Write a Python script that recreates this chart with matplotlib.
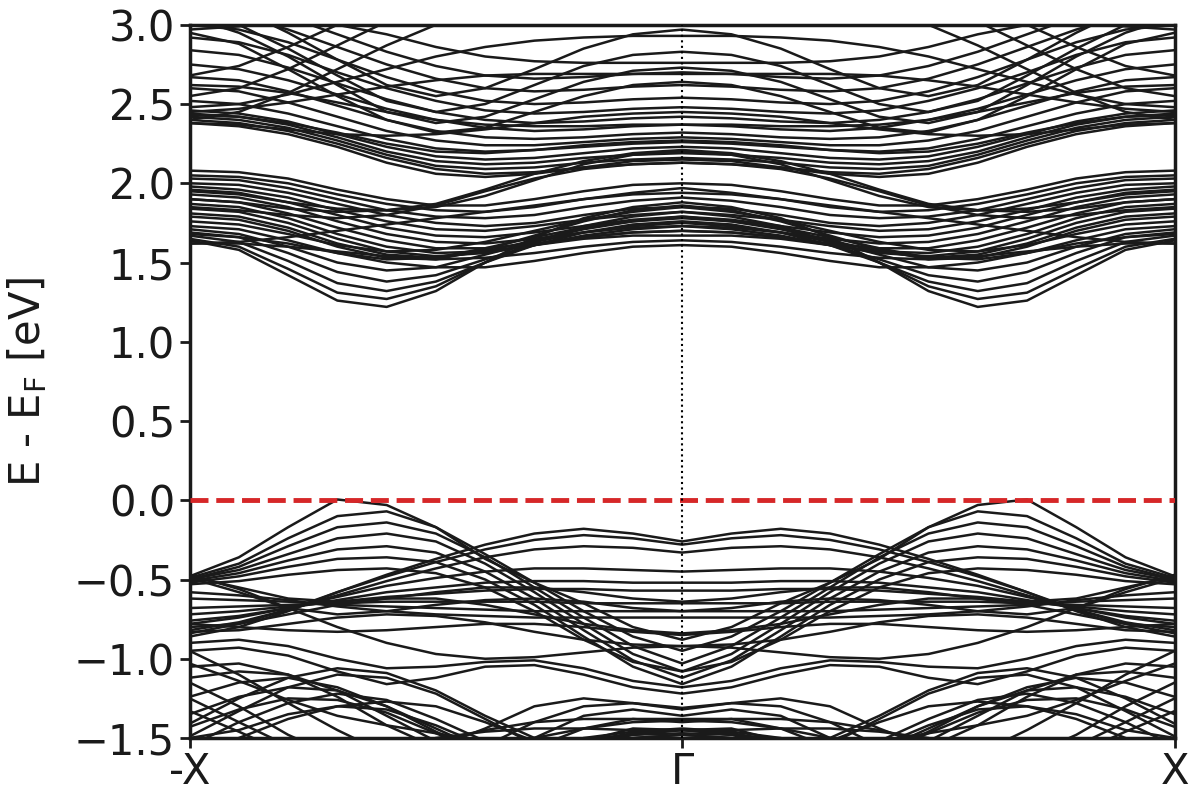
import numpy as np
import matplotlib
matplotlib.use("Agg")
import matplotlib.pyplot as plt

# k-points along the half path -X -> Gamma (fraction of the way); mirrored Gamma -> X
k_half = [0.0, 0.1, 0.2, 0.3, 0.4, 0.5, 0.6, 0.7, 0.8, 0.9, 1.0]

# Lower conduction manifold (eV), values at k_half
conduction_low = [
    [1.64, 1.58, 1.42, 1.26, 1.22, 1.32, 1.50, 1.66, 1.78, 1.85, 1.88],
    [1.65, 1.60, 1.46, 1.31, 1.27, 1.35, 1.50, 1.63, 1.73, 1.79, 1.82],
    [1.67, 1.63, 1.51, 1.37, 1.32, 1.38, 1.50, 1.61, 1.69, 1.74, 1.76],
    [1.69, 1.66, 1.56, 1.44, 1.38, 1.42, 1.52, 1.61, 1.67, 1.71, 1.73],
    [1.71, 1.68, 1.60, 1.50, 1.45, 1.47, 1.55, 1.63, 1.69, 1.73, 1.75],
    [1.73, 1.71, 1.64, 1.56, 1.52, 1.53, 1.59, 1.66, 1.72, 1.76, 1.79],
    [1.76, 1.74, 1.68, 1.61, 1.57, 1.58, 1.63, 1.70, 1.77, 1.82, 1.85],
    [1.68, 1.66, 1.62, 1.56, 1.50, 1.47, 1.47, 1.51, 1.56, 1.60, 1.61],
    [1.62, 1.62, 1.60, 1.57, 1.54, 1.52, 1.53, 1.56, 1.60, 1.63, 1.64],
    [2.08, 2.07, 2.03, 1.96, 1.90, 1.86, 1.86, 1.90, 1.95, 1.99, 2.00],
    [2.05, 2.04, 2.00, 1.93, 1.87, 1.83, 1.82, 1.85, 1.90, 1.94, 1.97],
    [2.03, 2.02, 1.97, 1.90, 1.83, 1.79, 1.78, 1.80, 1.85, 1.89, 1.91],
    [2.00, 1.99, 1.94, 1.87, 1.80, 1.75, 1.73, 1.75, 1.80, 1.84, 1.85],
    [1.98, 1.96, 1.91, 1.83, 1.76, 1.71, 1.70, 1.73, 1.77, 1.80, 1.82],
    [1.96, 1.94, 1.88, 1.80, 1.72, 1.67, 1.66, 1.69, 1.73, 1.77, 1.79],
    [1.93, 1.91, 1.85, 1.76, 1.68, 1.63, 1.62, 1.65, 1.69, 1.72, 1.73],
    [1.90, 1.88, 1.81, 1.72, 1.64, 1.59, 1.59, 1.62, 1.66, 1.69, 1.70],
    [1.87, 1.85, 1.78, 1.68, 1.60, 1.56, 1.57, 1.61, 1.65, 1.67, 1.67],
    [1.84, 1.82, 1.75, 1.65, 1.57, 1.54, 1.56, 1.61, 1.66, 1.69, 1.70],
    [1.81, 1.79, 1.72, 1.62, 1.55, 1.53, 1.57, 1.64, 1.71, 1.76, 1.78],
    [1.79, 1.77, 1.70, 1.60, 1.53, 1.52, 1.58, 1.67, 1.76, 1.83, 1.86],
    [1.62, 1.63, 1.66, 1.70, 1.74, 1.78, 1.82, 1.86, 1.90, 1.93, 1.94],
    [1.95, 1.93, 1.88, 1.84, 1.83, 1.85, 1.92, 2.02, 2.12, 2.18, 2.20],
    [1.90, 1.88, 1.84, 1.82, 1.83, 1.87, 1.96, 2.06, 2.14, 2.19, 2.21],
    [1.85, 1.83, 1.80, 1.78, 1.80, 1.86, 1.95, 2.03, 2.09, 2.12, 2.13],
]

# Upper conduction manifold (eV), values at k_half
conduction_high = [
    [2.46, 2.44, 2.39, 2.31, 2.23, 2.17, 2.15, 2.16, 2.19, 2.22, 2.23],
    [2.44, 2.42, 2.37, 2.29, 2.20, 2.14, 2.12, 2.13, 2.16, 2.18, 2.19],
    [2.42, 2.40, 2.35, 2.27, 2.18, 2.11, 2.09, 2.10, 2.13, 2.15, 2.16],
    [2.40, 2.38, 2.33, 2.25, 2.16, 2.09, 2.06, 2.07, 2.10, 2.12, 2.13],
    [2.38, 2.36, 2.31, 2.23, 2.13, 2.06, 2.04, 2.06, 2.10, 2.14, 2.15],
    [2.43, 2.42, 2.38, 2.32, 2.25, 2.20, 2.19, 2.21, 2.24, 2.26, 2.27],
    [2.52, 2.50, 2.44, 2.36, 2.28, 2.22, 2.20, 2.21, 2.23, 2.25, 2.26],
    [2.60, 2.58, 2.51, 2.42, 2.33, 2.27, 2.24, 2.24, 2.26, 2.28, 2.29],
    [2.67, 2.65, 2.58, 2.49, 2.40, 2.33, 2.29, 2.28, 2.29, 2.31, 2.32],
    [2.75, 2.72, 2.65, 2.56, 2.47, 2.40, 2.35, 2.33, 2.34, 2.36, 2.37],
    [2.84, 2.81, 2.73, 2.63, 2.53, 2.45, 2.40, 2.38, 2.39, 2.41, 2.42],
    [2.92, 2.89, 2.81, 2.70, 2.60, 2.52, 2.46, 2.44, 2.45, 2.47, 2.48],
    [3.00, 2.97, 2.89, 2.78, 2.67, 2.58, 2.52, 2.50, 2.51, 2.53, 2.54],
    [3.10, 3.06, 2.97, 2.86, 2.75, 2.66, 2.60, 2.58, 2.59, 2.61, 2.62],
    [3.20, 3.15, 3.05, 2.94, 2.83, 2.74, 2.68, 2.66, 2.67, 2.69, 2.70],
    [3.20, 3.10, 2.95, 2.78, 2.62, 2.55, 2.60, 2.72, 2.85, 2.94, 2.97],
    [3.10, 3.00, 2.85, 2.68, 2.52, 2.45, 2.50, 2.62, 2.74, 2.81, 2.83],
    [3.05, 2.95, 2.80, 2.62, 2.45, 2.38, 2.42, 2.53, 2.64, 2.71, 2.73],
    [2.95, 2.88, 2.72, 2.55, 2.40, 2.32, 2.35, 2.45, 2.55, 2.62, 2.64],
    [2.40, 2.45, 2.57, 2.72, 2.87, 3.00, 3.10, 3.15, 3.15, 3.15, 3.15],
    [2.55, 2.60, 2.72, 2.87, 3.02, 3.12, 3.18, 3.20, 3.20, 3.20, 3.20],
    [2.68, 2.74, 2.86, 3.00, 3.12, 3.20, 3.25, 3.25, 3.25, 3.25, 3.25],
    [2.48, 2.50, 2.56, 2.64, 2.72, 2.80, 2.86, 2.90, 2.92, 2.93, 2.93],
    [2.45, 2.47, 2.51, 2.56, 2.61, 2.65, 2.68, 2.69, 2.69, 2.69, 2.69],
    [2.38, 2.37, 2.34, 2.31, 2.30, 2.31, 2.34, 2.38, 2.42, 2.44, 2.45],
    [2.62, 2.61, 2.57, 2.51, 2.45, 2.40, 2.37, 2.36, 2.36, 2.37, 2.37],
    [2.97, 2.99, 3.02, 3.00, 2.94, 2.86, 2.80, 2.77, 2.76, 2.76, 2.76],
]

# Valence bands (eV), values at k_half
valence_bands = [
    [-0.48, -0.36, -0.17, 0.005, -0.03, -0.17, -0.37, -0.52, -0.65, -0.80, -0.88],
    [-0.49, -0.40, -0.24, -0.10, -0.07, -0.17, -0.34, -0.52, -0.70, -0.86, -0.95],
    [-0.50, -0.42, -0.29, -0.17, -0.14, -0.21, -0.36, -0.55, -0.74, -0.92, -1.03],
    [-0.50, -0.44, -0.34, -0.24, -0.21, -0.26, -0.40, -0.58, -0.78, -0.97, -1.08],
    [-0.51, -0.46, -0.38, -0.31, -0.29, -0.33, -0.45, -0.62, -0.82, -1.01, -1.12],
    [-0.52, -0.48, -0.42, -0.37, -0.36, -0.39, -0.50, -0.66, -0.86, -1.05, -1.16],
    [-0.53, -0.51, -0.47, -0.44, -0.43, -0.46, -0.55, -0.70, -0.88, -1.02, -1.08],
    [-0.86, -0.80, -0.70, -0.58, -0.47, -0.37, -0.28, -0.21, -0.18, -0.21, -0.26],
    [-0.84, -0.78, -0.69, -0.58, -0.48, -0.39, -0.31, -0.25, -0.22, -0.24, -0.28],
    [-0.82, -0.77, -0.69, -0.60, -0.51, -0.43, -0.36, -0.31, -0.29, -0.30, -0.33],
    [-0.78, -0.74, -0.68, -0.61, -0.54, -0.49, -0.45, -0.43, -0.43, -0.44, -0.45],
    [-0.76, -0.73, -0.68, -0.63, -0.58, -0.55, -0.52, -0.51, -0.51, -0.52, -0.52],
    [-0.72, -0.70, -0.67, -0.64, -0.61, -0.59, -0.57, -0.56, -0.56, -0.57, -0.57],
    [-0.68, -0.67, -0.66, -0.65, -0.64, -0.64, -0.64, -0.64, -0.65, -0.65, -0.65],
    [-0.62, -0.63, -0.64, -0.66, -0.67, -0.68, -0.69, -0.70, -0.70, -0.70, -0.70],
    [-0.58, -0.60, -0.63, -0.67, -0.70, -0.72, -0.73, -0.74, -0.74, -0.74, -0.74],
    [-0.48, -0.55, -0.62, -0.64, -0.62, -0.58, -0.55, -0.55, -0.58, -0.62, -0.64],
    [-0.49, -0.58, -0.68, -0.72, -0.70, -0.66, -0.63, -0.62, -0.64, -0.68, -0.70],
    [-0.80, -0.78, -0.72, -0.66, -0.62, -0.62, -0.66, -0.72, -0.78, -0.82, -0.84],
    [-0.83, -0.82, -0.78, -0.74, -0.72, -0.73, -0.77, -0.83, -0.88, -0.91, -0.92],
    [-0.78, -0.80, -0.82, -0.83, -0.82, -0.80, -0.78, -0.78, -0.80, -0.83, -0.85],
    [-0.47, -0.56, -0.68, -0.80, -0.90, -0.97, -1.00, -0.99, -0.96, -0.93, -0.92],
    [-0.95, -0.93, -0.98, -1.08, -1.16, -1.12, -1.05, -1.04, -1.10, -1.18, -1.22],
    [-0.90, -0.88, -0.92, -1.00, -1.06, -1.05, -1.02, -1.01, -1.06, -1.14, -1.18],
    [-1.05, -1.03, -1.10, -1.24, -1.42, -1.56, -1.44, -1.30, -1.25, -1.28, -1.31],
    [-1.12, -1.08, -1.10, -1.20, -1.36, -1.52, -1.55, -1.40, -1.30, -1.28, -1.32],
    [-1.24, -1.15, -1.12, -1.18, -1.30, -1.46, -1.60, -1.50, -1.36, -1.32, -1.36],
    [-1.35, -1.24, -1.18, -1.20, -1.30, -1.44, -1.58, -1.56, -1.44, -1.38, -1.40],
    [-1.43, -1.32, -1.25, -1.26, -1.34, -1.47, -1.60, -1.62, -1.52, -1.44, -1.45],
    [-1.55, -1.40, -1.28, -1.22, -1.26, -1.38, -1.52, -1.65, -1.60, -1.50, -1.48],
    [-1.50, -1.45, -1.35, -1.30, -1.32, -1.42, -1.55, -1.60, -1.55, -1.48, -1.45],
    [-1.70, -1.68, -1.65, -1.62, -1.58, -1.52, -1.45, -1.40, -1.38, -1.38, -1.38],
    [-1.75, -1.72, -1.68, -1.63, -1.57, -1.50, -1.46, -1.44, -1.44, -1.45, -1.45],
    [-0.95, -1.10, -1.28, -1.45, -1.60, -1.70, -1.70, -1.62, -1.55, -1.50, -1.48],
    [-1.15, -1.30, -1.48, -1.62, -1.72, -1.75, -1.70, -1.60, -1.52, -1.47, -1.45],
    [-1.49, -1.33, -1.18, -1.10, -1.12, -1.22, -1.38, -1.54, -1.65, -1.70, -1.70],
    [-1.41, -1.25, -1.12, -1.06, -1.09, -1.20, -1.36, -1.50, -1.58, -1.60, -1.60],
    [-1.25, -1.40, -1.55, -1.68, -1.75, -1.75, -1.68, -1.58, -1.50, -1.46, -1.44],
    [-1.33, -1.46, -1.60, -1.72, -1.78, -1.76, -1.68, -1.58, -1.51, -1.48, -1.47],
    [-1.03, -1.14, -1.26, -1.36, -1.42, -1.47, -1.52, -1.50, -1.44, -1.40, -1.39],
    [-1.60, -1.50, -1.38, -1.30, -1.27, -1.30, -1.40, -1.52, -1.60, -1.62, -1.62],
]

tick_positions = [0.0, 1.0, 2.0]
tick_labels = ["-X", "Γ", "X"]
yticks = [-1.5, -1.0, -0.5, 0.0, 0.5, 1.0, 1.5, 2.0, 2.5, 3.0]

k_half_arr = np.array(k_half)
k_full = np.concatenate([k_half_arr, 2.0 - k_half_arr[::-1][1:]])

fig = plt.figure(figsize=(12, 8), dpi=100)
ax = fig.add_axes([0.158, 0.0775, 0.821, 0.8915])

line_color = "#1a1a1a"
for band in conduction_low + conduction_high + valence_bands:
    b = np.array(band)
    e_full = np.concatenate([b, b[::-1][1:]])
    ax.plot(k_full, e_full, color=line_color, lw=1.8, solid_joinstyle="round")

ax.axhline(0.0, color="#d62728", lw=3.5, ls="--", zorder=3)
ax.axvline(1.0, color="black", lw=1.5, ls=":", zorder=3)

ax.set_xlim(0.0, 2.0)
ax.set_ylim(-1.5, 3.0)
ax.set_xticks(tick_positions)
ax.set_xticklabels(tick_labels)
ax.set_yticks(yticks)
ax.tick_params(axis="both", labelsize=30, width=2, length=7, color="#1a1a1a", labelcolor="#1a1a1a")
ax.tick_params(axis="x", pad=2)
for s in ax.spines.values():
    s.set_linewidth(2.5)
    s.set_color("#1a1a1a")
ax.set_ylabel("E - E$_{\\mathrm{F}}$ [eV]", fontsize=30, color="#1a1a1a", labelpad=18)

fig.savefig("out.png", dpi=100)
